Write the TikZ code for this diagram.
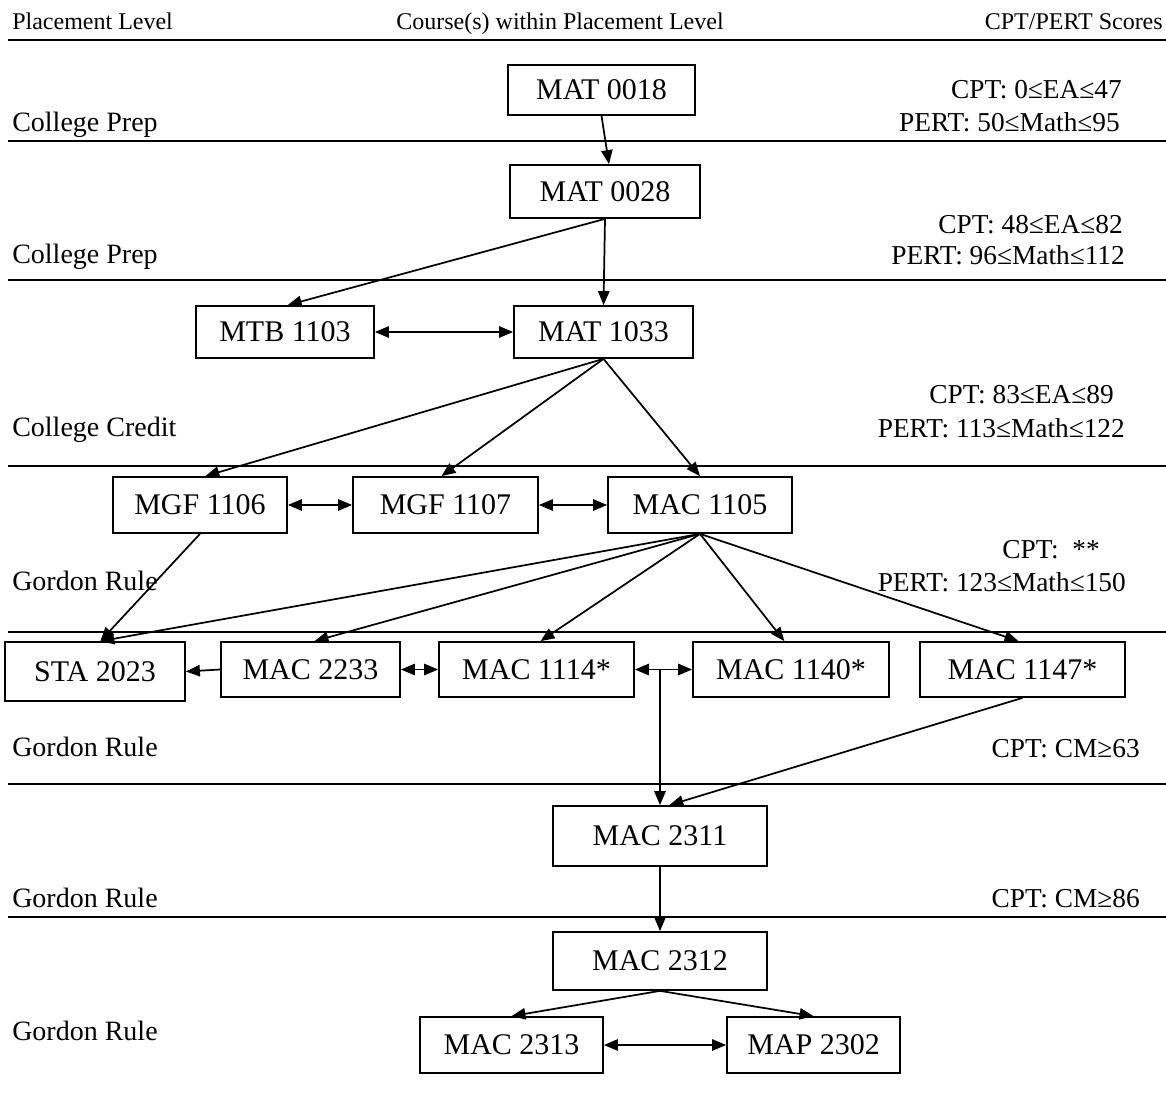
\documentclass[tikz,border=0pt]{standalone}
\usepackage{fontspec}
\setmainfont{Liberation Serif}
\usetikzlibrary{arrows.meta}
\begin{document}
\begin{tikzpicture}[x=0.75pt,y=-0.75pt,
  course/.style={draw,line width=1.3pt,inner sep=0pt,font=\fontsize{22.5}{27}\selectfont},
  bx/.style 2 args={minimum width=#1*0.75pt,minimum height=#2*0.75pt},
  lvl/.style={anchor=base west,inner sep=0pt,font=\fontsize{21}{25}\selectfont},
  score/.style={anchor=base east,inner sep=0pt,font=\fontsize{20.5}{25}\selectfont},
  hdr/.style={inner sep=0pt,font=\fontsize{18}{22}\selectfont},
  sep/.style={line width=1.6pt},
  tip/.tip={Triangle[length=10.5pt,width=8.5pt]},
  arr/.style={line width=1.3pt,-tip},
  darr/.style={line width=1.3pt,tip-tip}]
\useasboundingbox (0,0) rectangle (1166,1095);

% header
\node[hdr,anchor=base west] (h1) at (12,30) {Placement Level};
\node[hdr,anchor=base] (h2) at (560,30) {Course(s) within Placement Level};
\node[hdr,anchor=base east] (h3) at (1163,30) {CPT/PERT Scores};

% separators
\foreach \yy/\nm in {40/s0,141/s1,280/s2,466/s3,632/s4,784/s5,917/s6}{
  \coordinate (\nm a) at (8,\yy);
  \coordinate (\nm b) at (1166,\yy);
  \draw[sep] (\nm a) -- (\nm b);
}

% level labels
\node[lvl] (l1) at (12,132) {College Prep};
\node[lvl] (l2) at (12,263) {College Prep};
\node[lvl] (l3) at (12,436) {College Credit};
\node[lvl] (l4) at (12,590) {Gordon Rule};
\node[lvl] (l5) at (12,756) {Gordon Rule};
\node[lvl] (l6) at (12,907) {Gordon Rule};
\node[lvl] (l7) at (12,1040) {Gordon Rule};

% scores
\node[score] (c1) at (1122,99) {CPT: 0≤EA≤47};
\node[score] (p1) at (1120,132) {PERT: 50≤Math≤95};
\node[score] (c2) at (1123,233) {CPT: 48≤EA≤82};
\node[score] (p2) at (1125,264) {PERT: 96≤Math≤112};
\node[score] (c3) at (1114,403) {CPT: 83≤EA≤89};
\node[score] (p3) at (1125,437) {PERT: 113≤Math≤122};
\node[score] (c4) at (1100,558) {CPT:\ \ **};
\node[score] (p4) at (1126,591) {PERT: 123≤Math≤150};
\node[score] (c5) at (1140,757) {CPT: CM≥63};
\node[score] (c6) at (1140,907) {CPT: CM≥86};

% courses
\node[course,bx={187}{50}] (mat0018) at (601.5,90) {MAT 0018};
\node[course,bx={190}{53}] (mat0028) at (605,191.5) {MAT 0028};
\node[course,bx={178}{52}] (mtb1103) at (285,332) {MTB 1103};
\node[course,bx={179}{52}] (mat1033) at (603.5,332) {MAT 1033};
\node[course,bx={174}{56}] (mgf1106) at (200,505) {MGF 1106};
\node[course,bx={185}{56}] (mgf1107) at (445.5,505) {MGF 1107};
\node[course,bx={184}{56}] (mac1105) at (700,505) {MAC 1105};
\node[course,bx={180}{59}] (sta2023) at (95,671.5) {STA 2023};
\node[course,bx={179}{55}] (mac2233) at (310.5,669.5) {MAC 2233};
\node[course,bx={195}{55}] (mac1114) at (536.5,669.5) {MAC 1114*};
\node[course,bx={196}{55}] (mac1140) at (791,669.5) {MAC 1140*};
\node[course,bx={205}{55}] (mac1147) at (1022.5,669.5) {MAC 1147*};
\node[course,bx={214}{60}] (mac2311) at (660,836) {MAC 2311};
\node[course,bx={214}{58}] (mac2312) at (660,961) {MAC 2312};
\node[course,bx={183}{56}] (mac2313) at (511.5,1045) {MAC 2313};
\node[course,bx={173}{56}] (map2302) at (813.5,1045) {MAP 2302};

% connectors
\draw[arr] (mat0018.south) -- ([xshift=3pt]mat0028.north);
\draw[arr] (mat0028.south) -- (mat1033.north);
\draw[arr] (mat0028.south) -- ([xshift=2pt]mtb1103.north);
\draw[darr] (mtb1103.east) -- (mat1033.west);
\draw[arr] (mat1033.south) -- ([xshift=4pt]mgf1106.north);
\draw[arr] (mat1033.south) -- ([xshift=-3pt]mgf1107.north);
\draw[arr] (mat1033.south) -- (mac1105.north);
\draw[darr] (mgf1106.east) -- (mgf1107.west);
\draw[darr] (mgf1107.east) -- (mac1105.west);
\draw[arr] (mgf1106.south) -- ([xshift=4pt]sta2023.north);
\draw[arr] (mac1105.south) -- ([xshift=4pt]sta2023.north);
\draw[arr] (mac1105.south) -- ([xshift=3pt]mac2233.north);
\draw[arr] (mac1105.south) -- ([xshift=3pt]mac1114.north);
\draw[arr] (mac1105.south) -- ([xshift=-5pt]mac1140.north);
\draw[arr] (mac1105.south) -- ([xshift=-3pt]mac1147.north);
\draw[arr] (mac2233.west) -- (sta2023.east);
\draw[darr] (mac2233.east) -- (mac1114.west);
\draw[darr] (mac1114.east) -- (mac1140.west);
\coordinate (jn) at (mac2311.north |- mac1114.east);
\draw[arr] (jn) -- (mac2311.north);
\draw[arr] (mac1147.south) -- ([xshift=7pt]mac2311.north);
\draw[arr] (mac2311.south) -- (mac2312.north);
\draw[arr] (mac2312.south) -- (mac2313.north);
\draw[arr] (mac2312.south) -- (map2302.north);
\draw[darr] (mac2313.east) -- (map2302.west);
\end{tikzpicture}
\end{document}
